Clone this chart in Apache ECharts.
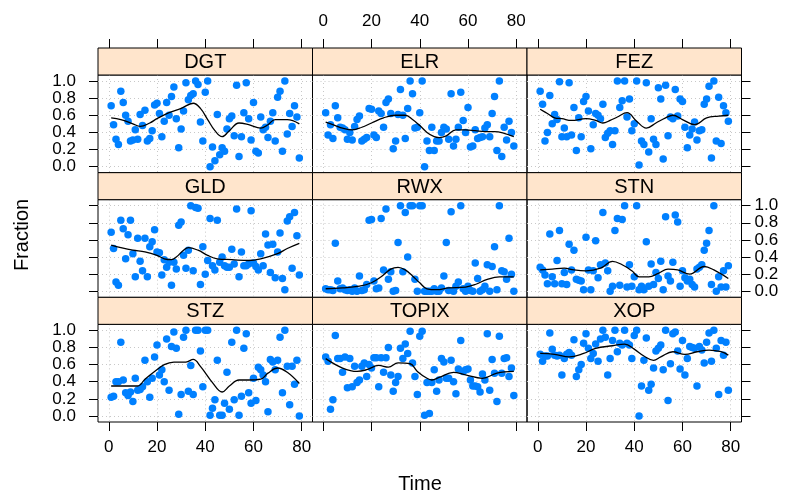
<!DOCTYPE html>
<html>
<head>
<meta charset="utf-8">
<script src="https://cdn.jsdelivr.net/npm/echarts@6/dist/echarts.min.js"></script>
<style>
html,body{margin:0;padding:0;background:#fff}
#chart{width:791px;height:497px}
</style>
</head>
<body>
<div id="chart"></div>
<script>
// Time index shared by every panel
const time = [1,2,3,4,5,6,7,8,9,10,11,12,13,14,15,16,17,18,19,20,21,22,23,24,25,26,27,28,29,30,
  31,32,33,34,35,36,37,38,39,40,41,42,43,44,45,46,47,48,49,50,51,52,53,54,55,56,57,58,59,60,
  61,62,63,64,65,66,67,68,69,70,71,72,73,74,75,76,77,78,79];

// Panel order: left to right, top to bottom
const panelNames = ['DGT','ELR','FEZ','GLD','RWX','STN','STZ','TOPIX','XOP'];

// Fraction per time step
const DGT = [0.71,0.49,0.32,0.26,0.88,0.75,0.60,0.53,0.30,0.31,0.43,0.32,0.61,0.48,0.66,0.30,0.33,0.42,0.72,0.74,
  0.62,0.35,0.53,0.75,0.60,0.82,0.93,0.56,0.22,0.44,0.65,0.98,0.78,0.83,0.85,1.00,0.96,0.52,0.30,0.87,
  1.00,0.00,0.23,0.07,0.61,0.14,0.22,0.18,0.44,0.56,0.59,0.36,0.95,0.12,0.35,0.63,0.98,0.56,0.31,0.75,
  0.18,0.16,0.58,0.43,0.46,0.34,0.53,0.63,0.30,0.81,0.88,0.18,1.00,0.38,0.62,0.47,0.71,0.58,0.10];
const ELR = [0.63,0.37,0.49,0.33,0.71,0.57,0.46,0.45,0.43,0.32,0.40,0.31,0.47,0.55,0.59,0.30,0.32,0.34,0.68,0.67,
  0.37,0.34,0.65,0.62,0.46,0.75,0.79,0.62,0.21,0.30,0.61,0.90,0.60,0.33,0.68,1.00,0.85,0.45,0.46,0.63,
  1.00,0.00,0.30,0.19,0.46,0.19,0.30,0.30,0.40,0.46,0.44,0.32,0.85,0.24,0.32,0.46,0.87,0.54,0.40,0.69,
  0.23,0.24,0.43,0.33,0.34,0.35,0.45,0.49,0.35,0.62,0.82,0.19,1.00,0.12,0.46,0.31,0.53,0.40,0.24];
const FEZ = [0.88,0.73,0.30,0.40,0.83,0.50,0.61,0.55,0.99,0.35,0.45,0.35,0.98,0.37,0.69,0.19,0.57,0.35,0.76,0.82,
  0.65,0.21,0.49,0.62,0.60,0.56,0.73,0.34,0.39,0.42,0.26,0.42,1.00,0.69,0.77,1.00,0.58,0.79,0.42,0.50,
  1.00,0.02,0.30,0.26,0.98,0.17,0.56,0.32,0.26,0.92,0.79,0.09,0.95,0.36,0.58,0.56,0.90,0.59,0.79,0.76,
  0.46,0.22,0.37,0.44,0.52,0.31,0.42,0.43,0.73,0.79,0.94,0.10,1.00,0.30,0.81,0.27,0.71,0.63,0.53];
const GLD = [0.69,0.50,0.11,0.07,0.83,0.73,0.38,0.66,0.83,0.44,0.17,0.62,0.35,0.24,0.62,0.17,0.52,0.58,0.72,0.46,
  0.45,0.19,0.37,0.28,0.34,0.07,0.34,0.26,0.77,0.81,0.42,0.27,0.48,1.00,0.24,0.98,0.97,0.08,0.52,0.20,
  0.36,0.85,0.30,0.25,0.83,0.34,0.40,0.30,0.28,0.28,0.49,0.32,0.96,0.17,0.46,0.30,0.30,0.32,0.94,0.33,
  0.29,0.25,0.44,0.30,0.67,0.54,0.22,0.55,0.16,0.46,0.68,0.15,0.02,0.82,0.87,0.27,0.92,0.65,0.19];
const RWX = [0.03,0.02,0.02,0.01,0.56,0.12,0.03,0.04,0.02,0.01,0.02,0.00,0.04,0.00,0.18,0.01,0.02,0.08,0.83,0.84,
  0.12,0.03,0.04,0.85,0.25,0.96,0.14,0.23,0.00,0.01,0.57,1.00,0.23,0.92,0.40,1.00,1.00,0.14,0.00,1.00,
  1.00,0.00,0.00,0.00,0.00,0.03,0.00,0.00,0.04,0.18,0.57,0.01,0.93,0.00,0.06,0.11,1.00,0.03,0.00,0.06,
  0.01,0.00,0.33,0.15,0.00,0.02,0.06,0.31,0.00,0.29,0.52,0.02,1.00,0.24,0.23,0.14,0.62,0.20,0.00];
const STN = [0.28,0.25,0.19,0.09,0.67,0.17,0.09,0.36,0.71,0.09,0.22,0.08,0.55,0.25,0.48,0.14,0.13,0.12,0.02,0.63,
  0.25,0.02,0.24,0.59,0.16,0.31,0.92,0.33,0.24,0.00,0.06,0.71,0.85,0.07,0.84,1.00,0.05,0.31,0.06,0.17,
  1.00,0.02,0.06,0.02,0.58,0.06,0.32,0.08,0.22,0.15,0.35,0.02,0.87,0.18,0.12,0.34,0.89,0.81,0.06,0.24,
  0.16,0.12,0.14,0.08,0.05,0.26,0.28,0.31,0.48,0.56,0.71,0.08,1.00,0.00,0.17,0.05,0.24,0.05,0.30];
const STZ = [0.22,0.23,0.40,0.40,0.86,0.42,0.27,0.24,0.28,0.17,0.44,0.30,0.31,0.34,0.65,0.40,0.22,0.44,0.69,0.83,
  0.48,0.54,0.40,0.90,0.30,0.81,0.98,0.79,0.02,0.25,0.92,1.00,0.29,0.59,0.25,1.00,1.00,0.76,0.34,1.00,
  1.00,0.01,0.09,0.19,0.65,0.01,0.01,0.15,0.51,0.08,0.86,0.19,1.00,0.01,0.23,0.79,0.96,0.27,0.15,0.44,
  0.18,0.57,0.54,0.48,0.40,0.05,0.66,0.63,0.54,0.65,0.92,0.27,1.00,0.58,0.13,0.58,0.37,0.65,0.00];
const TOPIX = [0.69,0.64,0.08,0.19,0.94,0.67,0.67,0.51,0.69,0.33,0.67,0.34,0.58,0.39,0.42,0.58,0.62,0.46,0.60,0.56,
  0.68,0.68,0.34,0.68,0.51,0.68,0.80,0.48,0.29,0.39,0.46,0.79,0.67,0.84,0.73,0.99,0.62,0.46,0.25,0.93,
  0.99,0.01,0.39,0.03,0.39,0.54,0.29,0.42,0.67,0.63,0.44,0.44,0.65,0.40,0.26,0.55,0.88,0.52,0.54,0.55,
  0.42,0.35,0.35,0.34,0.28,0.49,0.42,0.96,0.30,0.66,0.50,0.17,0.93,0.50,0.67,0.68,0.46,0.56,0.24];
const XOP = [0.72,0.64,0.70,0.70,0.97,0.78,0.71,0.70,0.71,0.48,0.67,0.72,0.74,0.71,0.89,0.46,0.54,0.60,0.85,0.96,
  0.79,0.67,0.73,0.84,0.64,0.90,1.00,0.92,0.48,0.67,0.88,1.00,0.75,0.85,0.83,1.00,0.85,0.83,0.67,0.94,
  1.00,0.00,0.35,0.65,0.91,0.30,0.37,0.56,0.76,0.79,0.83,0.54,1.00,0.18,0.61,0.96,0.98,0.76,0.55,0.88,
  0.48,0.67,0.81,0.80,0.79,0.35,0.81,0.77,0.62,0.86,0.97,0.64,1.00,0.79,0.25,0.88,0.71,0.86,0.30];

// Smoothed trend per panel: [time, fraction]
const DGT_smooth = [[1,0.57],[5,0.55],[10,0.50],[13,0.47],[17,0.51],[20,0.56],[25,0.63],[30,0.68],[35,0.74],[38,0.68],[41,0.55],[44,0.42],[47,0.35],[50,0.42],[54,0.51],[58,0.49],[63,0.45],[66,0.49],[69,0.55],[74,0.55],[79,0.50]];
const ELR_smooth = [[1,0.52],[5,0.48],[8,0.45],[12,0.43],[16,0.46],[20,0.51],[25,0.57],[30,0.60],[34,0.60],[37,0.55],[40,0.48],[43,0.40],[46,0.35],[48,0.34],[51,0.36],[55,0.43],[59,0.43],[63,0.42],[67,0.41],[71,0.41],[75,0.39],[79,0.35]];
const FEZ_smooth = [[1,0.67],[4,0.62],[7,0.57],[10,0.56],[14,0.54],[20,0.56],[24,0.54],[27,0.51],[30,0.54],[33,0.58],[37,0.63],[41,0.53],[45,0.45],[49,0.51],[53,0.57],[56,0.60],[60,0.55],[65,0.49],[70,0.57],[75,0.59],[79,0.60]];
const GLD_smooth = [[1,0.54],[5,0.51],[10,0.48],[15,0.46],[20,0.42],[23,0.38],[26,0.37],[28,0.40],[31,0.48],[33,0.51],[37,0.48],[41,0.42],[45,0.38],[51,0.37],[58,0.36],[63,0.38],[70,0.44],[74,0.50],[79,0.56]];
const RWX_smooth = [[1,0.03],[8,0.04],[15,0.06],[20,0.10],[24,0.17],[28,0.26],[31,0.28],[34,0.25],[37,0.18],[40,0.10],[43,0.03],[47,0.02],[52,0.04],[59,0.05],[63,0.08],[68,0.14],[73,0.17],[79,0.17]];
const STN_smooth = [[1,0.25],[6,0.26],[11,0.27],[15,0.25],[20,0.24],[26,0.27],[31,0.35],[35,0.31],[39,0.24],[42,0.17],[46,0.17],[50,0.21],[54,0.26],[58,0.25],[63,0.20],[69,0.29],[73,0.25],[79,0.15]];
const STZ_smooth = [[1,0.35],[7,0.35],[12,0.35],[15,0.43],[19,0.52],[23,0.60],[27,0.63],[32,0.63],[35,0.66],[38,0.58],[43,0.39],[47,0.28],[50,0.35],[54,0.42],[58,0.42],[63,0.43],[66,0.50],[70,0.56],[74,0.51],[79,0.38]];
const TOPIX_smooth = [[1,0.67],[8,0.56],[14,0.52],[18,0.54],[23,0.59],[27,0.57],[31,0.62],[36,0.61],[39,0.52],[43,0.44],[45,0.42],[48,0.45],[54,0.51],[59,0.48],[66,0.44],[72,0.50],[79,0.52]];
const XOP_smooth = [[1,0.73],[7,0.72],[13,0.69],[19,0.73],[24,0.79],[31,0.82],[36,0.84],[40,0.78],[44,0.70],[48,0.65],[51,0.69],[56,0.75],[61,0.72],[66,0.75],[71,0.77],[76,0.75],[79,0.71]];

// Axis ticks
const xTicks = [0, 20, 40, 60, 80];
const yTicks = [0, 0.2, 0.4, 0.6, 0.8, 1.0];

const fractions = {DGT, ELR, FEZ, GLD, RWX, STN, STZ, TOPIX, XOP};
const smooths = {DGT: DGT_smooth, ELR: ELR_smooth, FEZ: FEZ_smooth, GLD: GLD_smooth, RWX: RWX_smooth,
  STN: STN_smooth, STZ: STZ_smooth, TOPIX: TOPIX_smooth, XOP: XOP_smooth};

// Layout of the 3x3 trellis
const colLeft = [98, 312.5, 527];
const panelW = 214.5;
const rowTop = [48, 172.67, 297.33];
const stripH = 27;
const panelH = 97.67;
const xRange = [-4.46, 84.46];
const yRange = [-0.07, 1.07];
const FONT = 'Liberation Sans, Arial, Helvetica, sans-serif';
const tickLen = 9;
const tickFont = 17;

const grids = [], xAxes = [], yAxes = [], series = [], graphics = [];

function xAxisDef(gi, pos, showTicks, showLabels, showGrid, offset, margin) {
  return {
    gridIndex: gi, type: 'value', position: pos, offset: offset, min: xRange[0], max: xRange[1],
    axisLine: {show: false, onZero: false},
    axisTick: {show: showTicks, customValues: xTicks, length: tickLen, lineStyle: {color: '#000', width: 1}},
    axisLabel: {show: showLabels, customValues: xTicks, margin: margin, fontSize: tickFont, fontFamily: FONT, color: '#000',
      formatter: v => String(Math.round(v))},
    splitLine: {show: showGrid, lineStyle: {type: [1, 3], color: '#c8c8c8', width: 1}}
  };
}
function yAxisDef(gi, pos, showTicks, showLabels, showGrid, margin) {
  return {
    gridIndex: gi, type: 'value', position: pos, min: yRange[0], max: yRange[1],
    axisLine: {show: false, onZero: false},
    axisTick: {show: showTicks, customValues: yTicks, length: tickLen, lineStyle: {color: '#000', width: 1}},
    axisLabel: {show: showLabels, customValues: yTicks, margin: margin, fontSize: tickFont, fontFamily: FONT, color: '#000',
      formatter: v => v.toFixed(1)},
    splitLine: {show: showGrid, lineStyle: {type: [1, 3], color: '#c8c8c8', width: 1}}
  };
}

panelNames.forEach((name, i) => {
  const r = Math.floor(i / 3), c = i % 3;
  const top = rowTop[r] + stripH;
  grids.push({left: colLeft[c], top: top, width: panelW, height: panelH,
    show: true, borderColor: '#000', borderWidth: 1, backgroundColor: 'transparent'});

  const xi = xAxes.length;
  xAxes.push(xAxisDef(i, 'bottom', r === 2, r === 2 && c !== 1, true, 0, 17));
  // top axis sits above the strip
  if (r === 0) xAxes.push(xAxisDef(i, 'top', true, c === 1, false, stripH, 18));
  const yi = yAxes.length;
  yAxes.push(yAxisDef(i, 'left', c === 0, c === 0 && r !== 1, true, 22));
  if (c === 2) yAxes.push(yAxisDef(i, 'right', true, r === 1, false, 13));

  series.push({
    type: 'scatter', xAxisIndex: xi, yAxisIndex: yi, silent: true,
    symbol: 'circle', symbolSize: 7.5, itemStyle: {color: '#0080ff', opacity: 1},
    data: time.map((t, k) => [t, fractions[name][k]]), z: 2
  });
  series.push({
    type: 'line', xAxisIndex: xi, yAxisIndex: yi, silent: true,
    smooth: 0.4, showSymbol: false, symbol: 'none',
    lineStyle: {color: '#000', width: 1.3}, data: smooths[name], z: 3
  });

  // strip with the panel name
  graphics.push({type: 'rect', shape: {x: colLeft[c], y: rowTop[r], width: panelW, height: stripH},
    style: {fill: '#ffe5cc', stroke: '#000', lineWidth: 1}, z: 10});
  graphics.push({type: 'text', x: colLeft[c] + panelW / 2, y: rowTop[r] + stripH / 2 + 1,
    style: {text: name, textAlign: 'center', textVerticalAlign: 'middle', fontSize: 20, fontFamily: FONT, fill: '#000'}, z: 11});
});

graphics.push({type: 'text', x: 420, y: 484,
  style: {text: 'Time', textAlign: 'center', textVerticalAlign: 'middle', fontSize: 20, fontFamily: FONT, fill: '#000'}});
graphics.push({type: 'text', x: 22, y: 235, rotation: Math.PI / 2,
  style: {text: 'Fraction', textAlign: 'center', textVerticalAlign: 'middle', fontSize: 20, fontFamily: FONT, fill: '#000'}});

const chart = echarts.init(document.getElementById('chart'), null, {renderer: 'canvas'});
chart.setOption({
  animation: false,
  backgroundColor: '#fff',
  grid: grids, xAxis: xAxes, yAxis: yAxes, series: series, graphic: graphics
});
</script>
</body>
</html>
